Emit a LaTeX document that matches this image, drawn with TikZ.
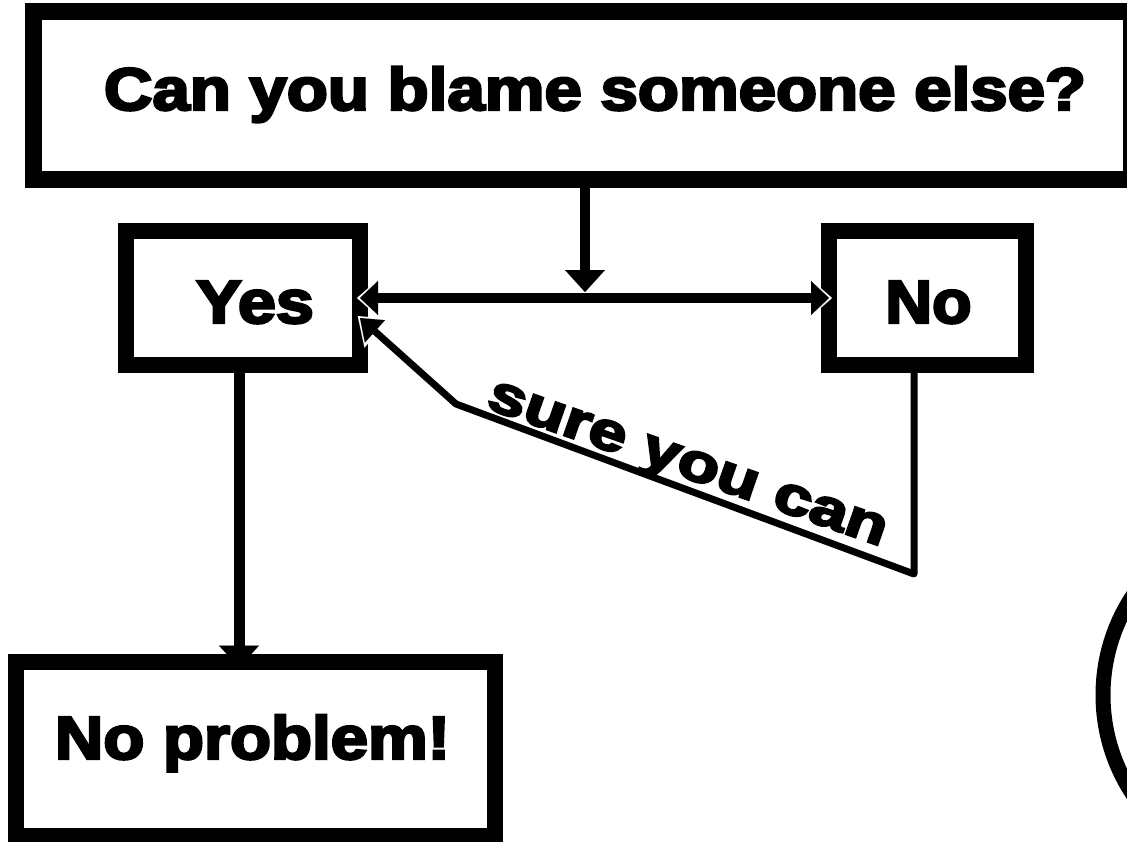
\documentclass[tikz,border=0pt]{standalone}
\usepackage{fontspec}
\usepackage{graphicx}
\setmainfont{Liberation Sans}[BoldFeatures={FakeBold=4}]
\usetikzlibrary{arrows.meta}
\newcommand\hstretch[2]{\scalebox{#1}[1]{#2}}
\begin{document}
\begin{tikzpicture}[x=1pt,y=-1pt,
  box/.style={draw=black, fill=white, line width=16pt, outer sep=0pt, inner sep=0pt},
  lbl/.style={anchor=base, inner sep=0pt, outer sep=0pt},
  big/.style={font=\bfseries\fontsize{61pt}{70pt}\selectfont},
  arr/.style={line width=10pt, -{Triangle[width=40pt,length=22pt,line width=0.01pt]},
    preaction={draw=white, line width=0.01pt, shorten >=-3pt,
      -{Triangle[width=48pt,length=28pt,line width=0.01pt]}}},
  darr/.style={line width=10pt, {Triangle[width=34pt,length=18pt,line width=0.01pt]}-{Triangle[width=34pt,length=18pt,line width=0.01pt]},
    preaction={draw=white, line width=0.01pt, shorten >=-3pt, shorten <=-3pt,
      {Triangle[width=42pt,length=24pt,line width=0.01pt]}-{Triangle[width=42pt,length=24pt,line width=0.01pt]}}},
  sarr/.style={line width=7pt, line join=round, -{Triangle[width=30pt,length=20pt,line width=0.01pt]},
    preaction={draw=white, line width=0.01pt, shorten >=-3pt,
      -{Triangle[width=38pt,length=26pt,line width=0.01pt]}}}
]
\useasboundingbox (0,0) rectangle (1127,841);
\clip (0,0) rectangle (1127,841);
\fill[white] (0,0) rectangle (1127,841);

% boxes
\node[box, line width=17pt, minimum width=1098pt, minimum height=168pt] (q) at (582.5,95.5) {};
\node[box, minimum width=234pt, minimum height=134pt] (yes) at (243,298) {};
\node[box, minimum width=197pt, minimum height=134pt] (no) at (927.5,298) {};
\node[box, minimum width=479pt, minimum height=174pt] (np) at (255.5,748.5) {};
\node[circle, draw=black, line width=15pt, minimum size=360pt, outer sep=0pt, inner sep=0pt] (ring) at (1283,695) {};

% labels
\node[lbl, font=\bfseries\fontsize{60pt}{70pt}\selectfont] (qt) at (595,110) {\hstretch{1.12}{Can you blame someone else?}};
\node[lbl, big] (yt) at (255,323) {\hstretch{1.12}{Yes}};
\node[lbl, big] (nt) at (928.5,323) {\hstretch{1.06}{No}};
\node[lbl, big] (npt) at (252.5,759) {\hstretch{1.1}{No problem!}};
\node[lbl, rotate=-19.3, font=\bfseries\fontsize{54pt}{60pt}\selectfont] (st) at (683,477) {\hstretch{1.26}{sure you can}};

% connectors
\coordinate (j) at (585,297);
\coordinate (v) at (239,0);
\coordinate (c1) at (914,574);
\coordinate (c2) at (456,404);
\draw[arr] (q.south -| j) -- ([yshift=5pt]j);
\draw[darr] (yes.east) -- (no.west);
\draw[arr, line width=11pt, shorten >=-6pt] (yes.south -| v) -- (np.north -| v);
\draw[sarr] (no.south -| c1) -- (c1) -- (c2) -- ([yshift=-20pt]yes.east);
\end{tikzpicture}
\end{document}
